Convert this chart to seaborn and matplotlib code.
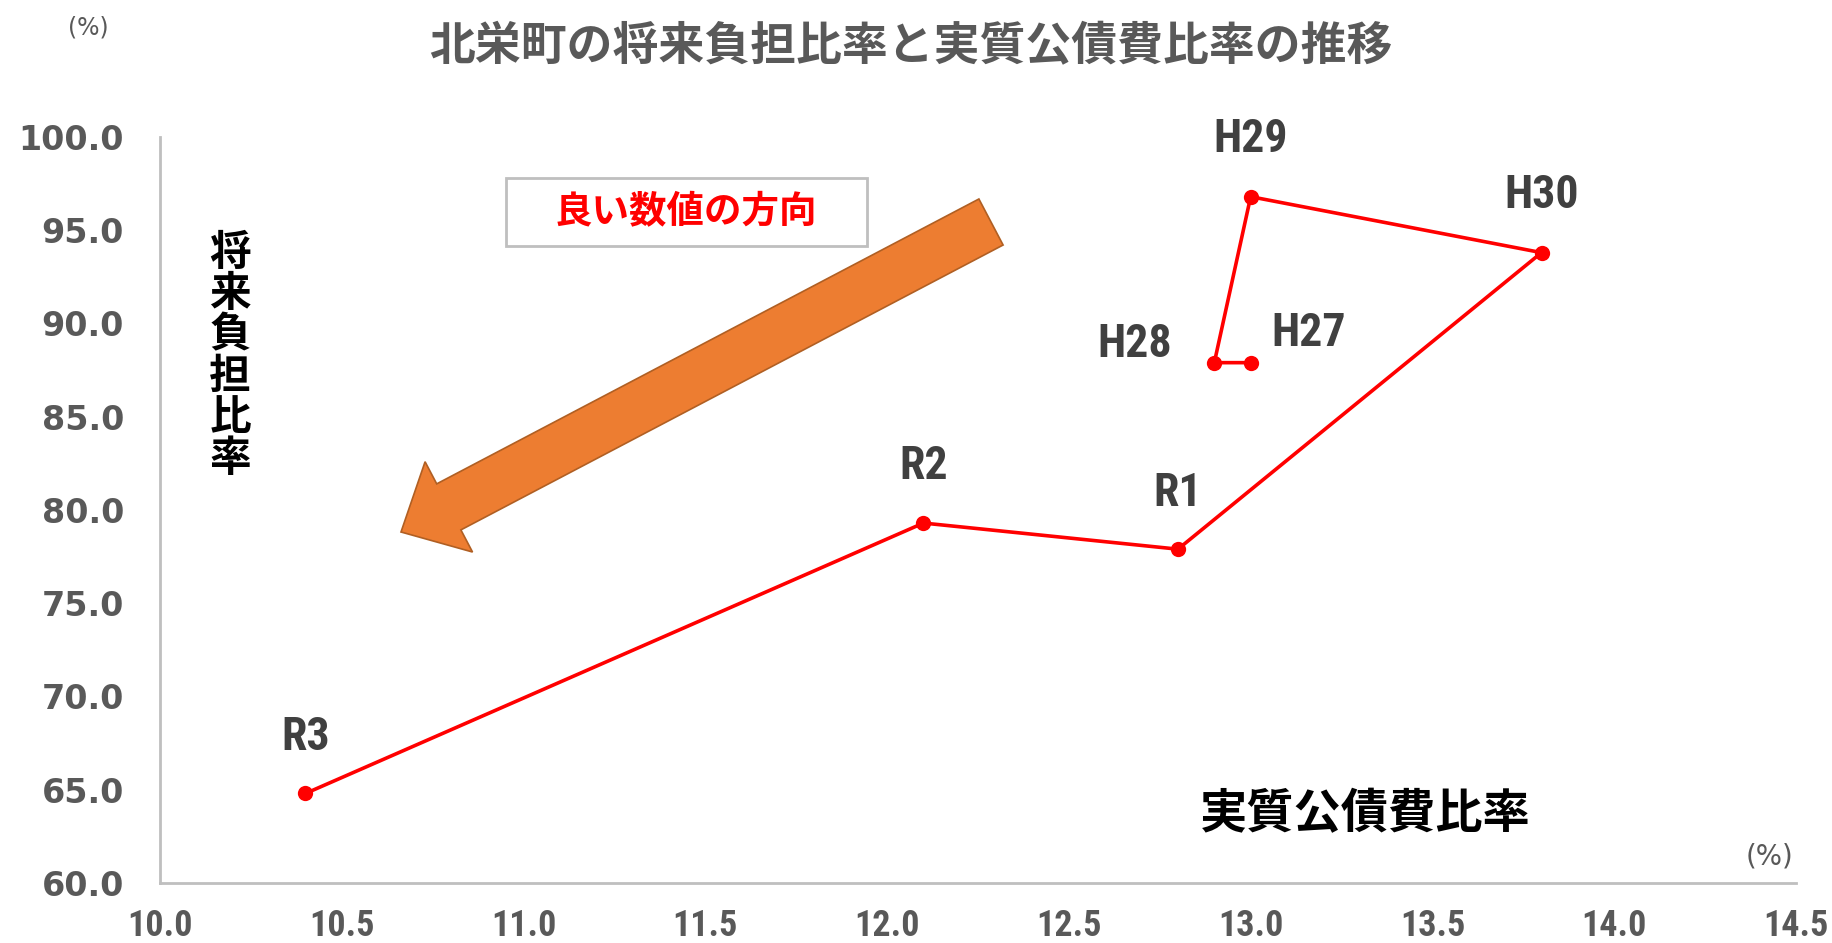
import matplotlib
matplotlib.use("Agg")
import numpy as np
import pandas as pd
import matplotlib.pyplot as plt
import matplotlib.patches as mpatches
import matplotlib.transforms as mtransforms
import seaborn as sns
from matplotlib import font_manager

# データ
years = ["H27", "H28", "H29", "H30", "R1", "R2", "R3"]
kousaihi = [13.0, 12.9, 13.0, 13.8, 12.8, 12.1, 10.4]      # 実質公債費比率 (%)
futan = [87.9, 87.9, 96.8, 93.8, 77.9, 79.3, 64.8]         # 将来負担比率 (%)
label_offsets = [(58, 30), (-80, 19), (0, 58), (0, 58), (0, 56), (0, 57), (0, 56)]

x_ticks = [10.0, 10.5, 11.0, 11.5, 12.0, 12.5, 13.0, 13.5, 14.0, 14.5]
y_ticks = [60.0, 65.0, 70.0, 75.0, 80.0, 85.0, 90.0, 95.0, 100.0]

df = pd.DataFrame({"year": years, "x": kousaihi, "y": futan})

sns.set_style("white")
jp = "Noto Sans CJK JP"
plt.rcParams["font.family"] = ["DejaVu Sans", jp]

# 細めの数字フォントがあれば使う
names = {f.name for f in font_manager.fontManager.ttflist}
narrow = None
for cand in ["Liberation Sans Narrow", "Roboto Condensed", "DejaVu Sans Condensed"]:
    if cand in names:
        narrow = cand
        break
if narrow:
    num_font, xtick_size, lab_size = narrow, 26, 33
else:
    num_font, xtick_size, lab_size = "DejaVu Sans", 20.5, 26

W, H = 1832, 943
fig = plt.figure(figsize=(W / 100, H / 100), dpi=100)
ax = fig.add_axes([160 / W, 1 - 883 / H, (1796 - 160) / W, (883 - 137) / H])

sns.lineplot(data=df, x="x", y="y", sort=False, estimator=None, ax=ax,
             color="#FF0000", linewidth=2.6, marker="o", markersize=11,
             markeredgewidth=0, markeredgecolor="#FF0000")

for (yr, xv, yv), off in zip(zip(years, kousaihi, futan), label_offsets):
    ax.annotate(yr, (xv, yv), xytext=off, textcoords="offset pixels",
                ha="center", va="center", fontsize=lab_size, fontweight="bold",
                color="#404040", family=num_font)

ax.set_xlim(10.0, 14.5)
ax.set_ylim(60.0, 100.0)
ax.set_xticks(x_ticks)
ax.set_yticks(y_ticks)
ax.set_xticklabels([f"{v:.1f}" for v in x_ticks], family=num_font)
ax.set_yticklabels([f"{v:.1f}" for v in y_ticks])
ax.tick_params(axis="y", direction="out", length=9, width=1.5, color="#BFBFBF",
               labelsize=24, labelcolor="#595959", pad=17)
ax.tick_params(axis="x", direction="out", length=9, width=1.5, color="#BFBFBF",
               labelsize=xtick_size, labelcolor="#595959", pad=9)
for lab in ax.get_xticklabels() + ax.get_yticklabels():
    lab.set_fontweight("bold")
sns.despine(ax=ax)
for s in ["left", "bottom"]:
    ax.spines[s].set_color("#BFBFBF")
    ax.spines[s].set_linewidth(2)
ax.set_xlabel("")
ax.set_ylabel("")

# タイトル・軸ラベル
fig.text(911 / W, 1 - 47 / H, "北栄町の将来負担比率と実質公債費比率の推移",
         ha="center", va="center", fontsize=33, fontweight="bold",
         color="#595959", family=jp)
fig.text(88 / W, 1 - 27 / H, "(%)", ha="center", va="center", fontsize=17,
         color="#595959")
fig.text(1770 / W, 1 - 856 / H, "(%)", ha="center", va="center", fontsize=20,
         color="#595959")
fig.text(230 / W, 1 - 356 / H, "\n".join("将来負担比率"), ha="center", va="center",
         fontsize=30, fontweight="bold", color="black", family=jp, linespacing=0.98)
fig.text(1365 / W, 1 - 814 / H, "実質公債費比率", ha="center", va="center",
         fontsize=34, fontweight="bold", color="black", family=jp)

# 「良い数値の方向」ボックスと矢印
ident = mtransforms.IdentityTransform()
box = mpatches.Rectangle((506, H - 246), 361, 68, transform=ident,
                         facecolor="white", edgecolor="#BFBFBF", linewidth=2)
fig.add_artist(box)
fig.text(686 / W, 1 - 212 / H, "良い数値の方向", ha="center", va="center",
         fontsize=27, fontweight="bold", color="#FF0000", family=jp)

arrow = mpatches.FancyArrow(991, H - 222, -590, -310, width=52, head_width=102,
                            head_length=54, length_includes_head=True,
                            transform=ident, facecolor="#ED7D31",
                            edgecolor="#B05F23", linewidth=1.2)
fig.add_artist(arrow)

fig.savefig("out.png", dpi=100, facecolor="white")
